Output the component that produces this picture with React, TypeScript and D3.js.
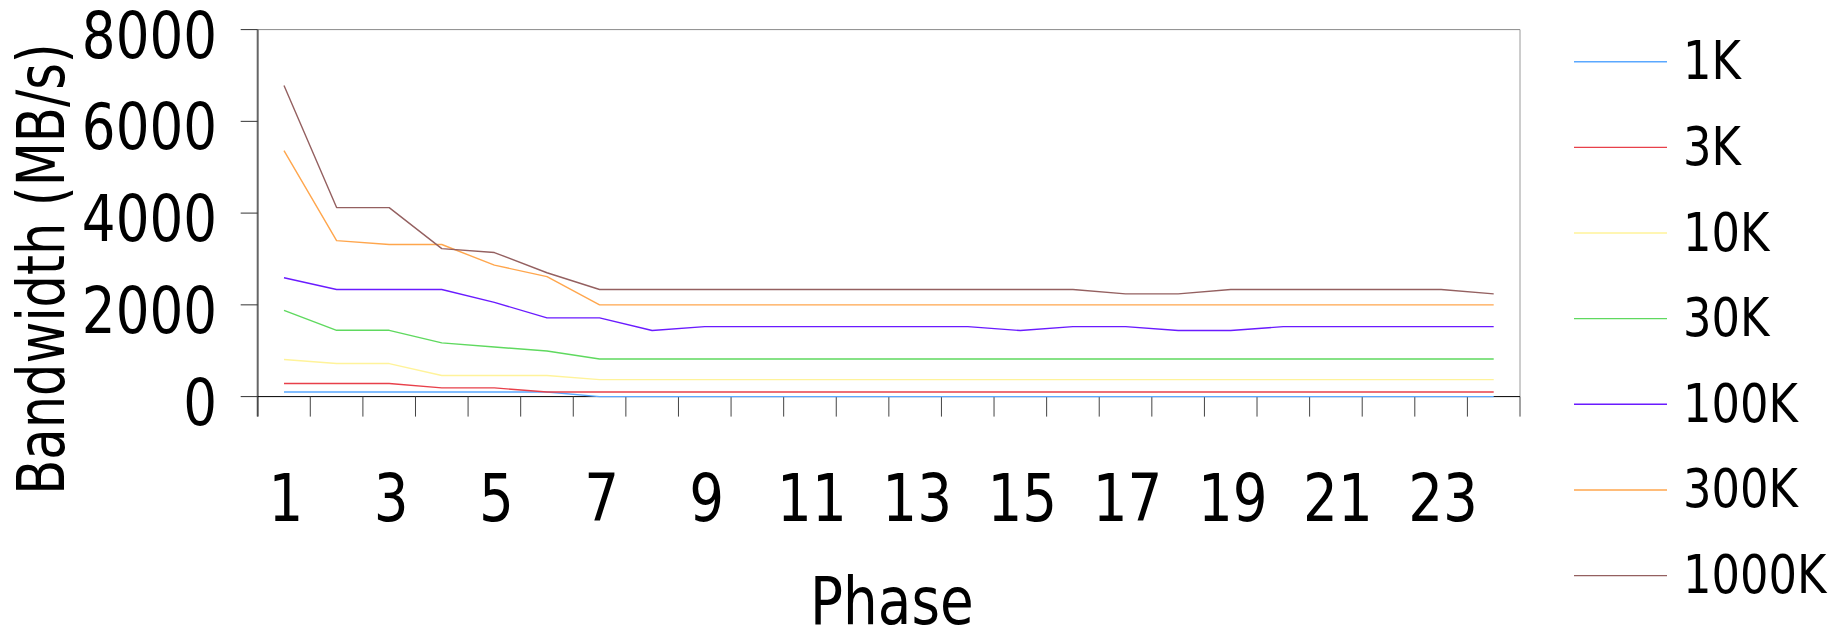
import React from "react";
import * as d3 from "d3";

// Phase categories on the x axis
const phases = [1, 2, 3, 4, 5, 6, 7, 8, 9, 10, 11, 12, 13, 14, 15, 16, 17, 18, 19, 20, 21, 22, 23, 24];
const phaseLabels = [1, 3, 5, 7, 9, 11, 13, 15, 17, 19, 21, 23];
const yTicks = [0, 2000, 4000, 6000, 8000];

// Bandwidth (MB/s) per phase, one array per message size
const bw1K = [100, 100, 100, 100, 100, 100, 0, 0, 0, 0, 0, 0, 0, 0, 0, 0, 0, 0, 0, 0, 0, 0, 0, 0];
const bw3K = [285, 285, 285, 190, 190, 100, 100, 100, 100, 100, 100, 100, 100, 100, 100, 100, 100, 100, 100, 100, 100, 100, 100, 100];
const bw10K = [810, 720, 720, 460, 460, 460, 370, 370, 370, 370, 370, 370, 370, 370, 370, 370, 370, 370, 370, 370, 370, 370, 370, 370];
const bw30K = [1880, 1445, 1445, 1170, 1080, 995, 820, 820, 820, 820, 820, 820, 820, 820, 820, 820, 820, 820, 820, 820, 820, 820, 820, 820];
const bw100K = [2590, 2335, 2335, 2335, 2055, 1715, 1715, 1440, 1525, 1525, 1525, 1525, 1525, 1525, 1440, 1525, 1525, 1440, 1440, 1525, 1525, 1525, 1525, 1525];
const bw300K = [5360, 3400, 3315, 3315, 2865, 2615, 2000, 2000, 2000, 2000, 2000, 2000, 2000, 2000, 2000, 2000, 2000, 2000, 2000, 2000, 2000, 2000, 2000, 2000];
const bw1000K = [6780, 4120, 4120, 3225, 3140, 2700, 2335, 2335, 2335, 2335, 2335, 2335, 2335, 2335, 2335, 2335, 2240, 2240, 2335, 2335, 2335, 2335, 2335, 2240];

const seriesNames = ["1K", "3K", "10K", "30K", "100K", "300K", "1000K"];
const seriesValues = [bw1K, bw3K, bw10K, bw30K, bw100K, bw300K, bw1000K];
const seriesColors = ["#5aa8ff", "#e8404a", "#fff39a", "#5fd95f", "#6a1bff", "#ffa64d", "#946060"];

const W = 1829;
const H = 629;
const plot = { left: 257.7, right: 1520, top: 29.6, bottom: 396.6 };
const FONT = "'DejaVu Sans', Verdana, sans-serif";
const SQUEEZE = 0.83;

export default function App() {
  const x = d3
    .scaleBand<number>()
    .domain(phases)
    .range([plot.left, plot.right])
    .paddingInner(0)
    .paddingOuter(0);
  const y = d3.scaleLinear().domain([0, 8000]).range([plot.bottom, plot.top]);
  const cx = (p: number) => (x(p) as number) + x.bandwidth() / 2;

  const line = d3
    .line<number>()
    .x((_, i) => cx(phases[i]))
    .y((v) => y(v));

  const boundaries = phases.map((p) => x(p) as number).concat([plot.right]);

  const legendTop = 61.7;
  const legendStep = 85.65;

  return (
    <svg
      width={W}
      height={H}
      style={{ position: "absolute", left: 0, top: 0, background: "#fff" }}
      fontFamily={FONT}
    >
      <rect x={0} y={0} width={W} height={H} fill="#fff" />

      {/* plot frame: top and right borders */}
      <line x1={plot.left} x2={plot.right} y1={plot.top} y2={plot.top} stroke="#8a8a8a" strokeWidth={1} />
      <line x1={plot.right} x2={plot.right} y1={plot.top} y2={plot.bottom} stroke="#9a9a9a" strokeWidth={1} />

      {/* y axis */}
      <line x1={plot.left} x2={plot.left} y1={plot.top} y2={plot.bottom + 20} stroke="#666" strokeWidth={2} />
      {yTicks.map((t) => (
        <g key={`yt${t}`}>
          <line x1={plot.left - 17} x2={plot.left} y1={y(t)} y2={y(t)} stroke="#333" strokeWidth={1} />
          <text
            transform={`translate(${217},${y(t) + 28}) scale(${SQUEEZE},1)`}
            textAnchor="end"
            fontSize={64}
            fill="#000"
          >
            {t}
          </text>
        </g>
      ))}

      {/* x axis */}
      <line x1={plot.left} x2={plot.right} y1={plot.bottom} y2={plot.bottom} stroke="#000" strokeWidth={1} />
      {boundaries.map((bx, i) => (
        <line key={`xt${i}`} x1={bx} x2={bx} y1={plot.bottom} y2={plot.bottom + 20} stroke="#444" strokeWidth={1} />
      ))}
      {phaseLabels.map((p) => (
        <text
          key={`xl${p}`}
          transform={`translate(${cx(p) + 2},${521}) scale(${SQUEEZE},1)`}
          textAnchor="middle"
          fontSize={66}
          fill="#000"
        >
          {p}
        </text>
      ))}

      {/* axis titles */}
      <text
        transform={`translate(${(plot.left + plot.right) / 2 + 3},${624}) scale(${SQUEEZE},1)`}
        textAnchor="middle"
        fontSize={66}
        fill="#000"
      >
        Phase
      </text>
      <text
        transform={`translate(${64},${269}) rotate(-90) scale(0.775,1)`}
        textAnchor="middle"
        fontSize={66}
        fill="#000"
      >
        Bandwidth (MB/s)
      </text>

      {/* series lines */}
      {seriesValues.map((vals, si) => (
        <path
          key={`s${si}`}
          d={line(vals) as string}
          fill="none"
          stroke={seriesColors[si]}
          strokeWidth={1.4}
          strokeLinejoin="round"
        />
      ))}

      {/* legend */}
      {seriesNames.map((name, i) => {
        const ly = legendTop + i * legendStep;
        return (
          <g key={`lg${name}`}>
            <line x1={1574} x2={1667} y1={ly} y2={ly} stroke={seriesColors[i]} strokeWidth={1.4} />
            <text
              transform={`translate(${1683},${ly + 17.5}) scale(${SQUEEZE},1)`}
              fontSize={54}
              fill="#000"
            >
              {name}
            </text>
          </g>
        );
      })}
    </svg>
  );
}
